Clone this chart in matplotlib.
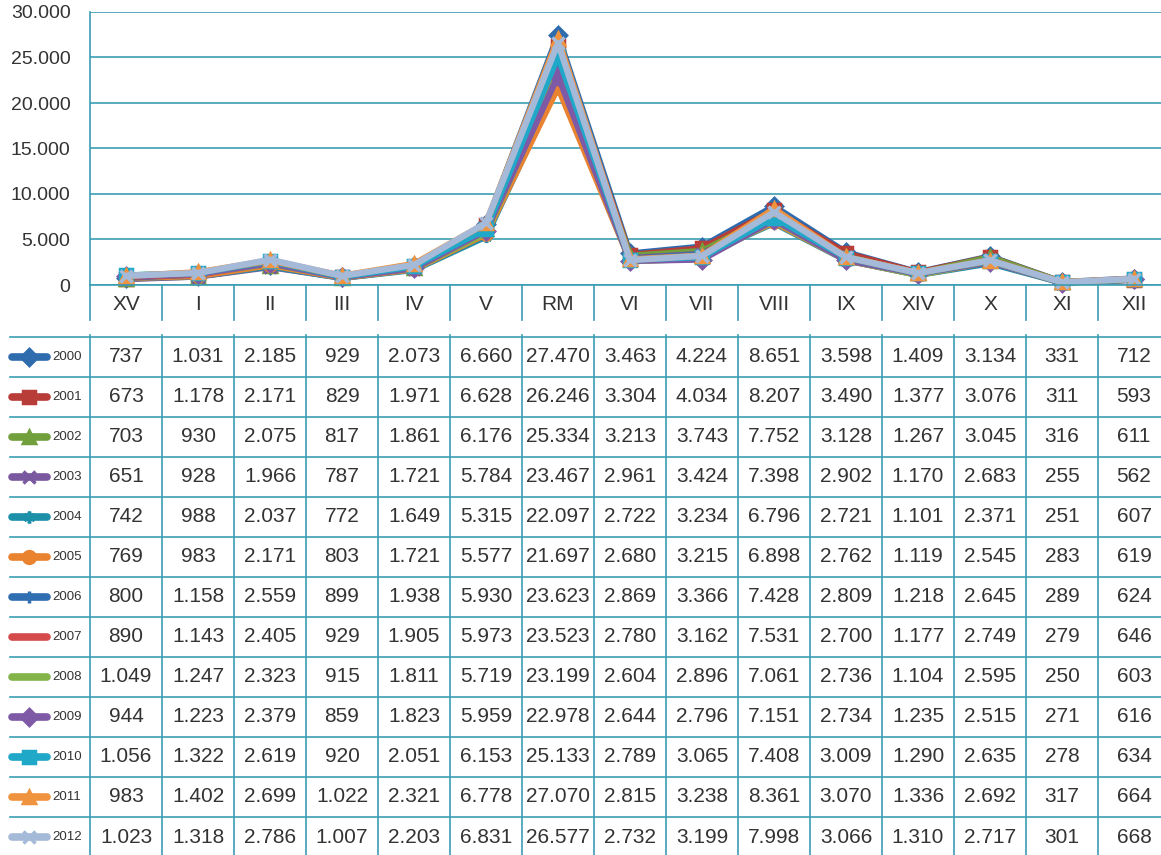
import matplotlib
matplotlib.use("Agg")
import matplotlib.pyplot as plt
from matplotlib import font_manager

categories = ["XV", "I", "II", "III", "IV", "V", "RM", "VI", "VII", "VIII", "IX", "XIV", "X", "XI", "XII"]
years = ["2000", "2001", "2002", "2003", "2004", "2005", "2006",
         "2007", "2008", "2009", "2010", "2011", "2012"]

v2000 = [737, 1031, 2185, 929, 2073, 6660, 27470, 3463, 4224, 8651, 3598, 1409, 3134, 331, 712]
v2001 = [673, 1178, 2171, 829, 1971, 6628, 26246, 3304, 4034, 8207, 3490, 1377, 3076, 311, 593]
v2002 = [703, 930, 2075, 817, 1861, 6176, 25334, 3213, 3743, 7752, 3128, 1267, 3045, 316, 611]
v2003 = [651, 928, 1966, 787, 1721, 5784, 23467, 2961, 3424, 7398, 2902, 1170, 2683, 255, 562]
v2004 = [742, 988, 2037, 772, 1649, 5315, 22097, 2722, 3234, 6796, 2721, 1101, 2371, 251, 607]
v2005 = [769, 983, 2171, 803, 1721, 5577, 21697, 2680, 3215, 6898, 2762, 1119, 2545, 283, 619]
v2006 = [800, 1158, 2559, 899, 1938, 5930, 23623, 2869, 3366, 7428, 2809, 1218, 2645, 289, 624]
v2007 = [890, 1143, 2405, 929, 1905, 5973, 23523, 2780, 3162, 7531, 2700, 1177, 2749, 279, 646]
v2008 = [1049, 1247, 2323, 915, 1811, 5719, 23199, 2604, 2896, 7061, 2736, 1104, 2595, 250, 603]
v2009 = [944, 1223, 2379, 859, 1823, 5959, 22978, 2644, 2796, 7151, 2734, 1235, 2515, 271, 616]
v2010 = [1056, 1322, 2619, 920, 2051, 6153, 25133, 2789, 3065, 7408, 3009, 1290, 2635, 278, 634]
v2011 = [983, 1402, 2699, 1022, 2321, 6778, 27070, 2815, 3238, 8361, 3070, 1336, 2692, 317, 664]
v2012 = [1023, 1318, 2786, 1007, 2203, 6831, 26577, 2732, 3199, 7998, 3066, 1310, 2717, 301, 668]

series = [v2000, v2001, v2002, v2003, v2004, v2005, v2006,
          v2007, v2008, v2009, v2010, v2011, v2012]

colors = ["#2f6cae", "#b83c37", "#719f3c", "#7a58a0", "#1c8fa9", "#e9832f", "#2f6eb1",
          "#d54b4b", "#82b44a", "#7e5aa6", "#20a8c8", "#f0933f", "#a5b9d8"]
markers = ["D", "s", "^", "x", (6, 2, 0), "o", "+", None, None, "D", "s", "^", "x"]

grid_col = "#3b9db3"
text_col = "#333333"

# pick a narrow font for the table if there is one
installed = {f.name for f in font_manager.fontManager.ttflist}
narrow = "Liberation Sans Narrow" if "Liberation Sans Narrow" in installed else "Liberation Sans"
tab_size = 17 if narrow == "Liberation Sans Narrow" else 15


def fmt(v):
    return f"{v:,}".replace(",", ".")


W, H = 1161, 855
fig = plt.figure(figsize=(W / 100, H / 100), dpi=100)

# line chart, columns are 72 px wide, last one cut by the right edge
ax = fig.add_axes([90 / W, 1 - 285 / H, 1080 / W, (285 - 12) / H])
for vals, col, mk in zip(series, colors, markers):
    ax.plot(range(len(categories)), vals, color=col, lw=4.5, marker=mk,
            ms=8, mew=2.5, mfc=col, mec=col, clip_on=False)
ax.set_xlim(-0.5, 14.5)
ax.set_ylim(0, 30000)
ax.set_yticks(range(0, 30001, 5000))
ax.set_yticklabels([fmt(t) for t in range(0, 30001, 5000)],
                   fontsize=14, color=text_col, family="Liberation Sans")
ax.tick_params(axis="y", length=0, pad=14)
ax.set_xticks([])
ax.grid(axis="y", color=grid_col, lw=1.2)
ax.set_axisbelow(True)
for s in ["top", "right"]:
    ax.spines[s].set_visible(False)
ax.spines["left"].set_color(grid_col)
ax.spines["bottom"].set_color(grid_col)
ax.spines["left"].set_linewidth(1.2)
ax.spines["bottom"].set_linewidth(1.2)

# category row and data table underneath, rows of 40 px starting at y=337
tab = fig.add_axes([0, 0, 1, 1 - 285 / H])
tab.set_xlim(-1.75, -1.75 + W / 72)
tab.set_ylim(12.95, -1.3)
tab.axis("off")

for i in range(len(categories) + 1):
    x = i - 0.5
    tab.plot([x, x], [-1.3, -0.42], color=grid_col, lw=1.2)
    tab.plot([x, x], [-0.05, 13], color=grid_col, lw=1.2)
for i, c in enumerate(categories):
    tab.text(i, -0.82, c, ha="center", va="center", fontsize=15,
             color=text_col, family=narrow)

for r in range(len(years) + 1):
    tab.plot([-1.61, 14.5], [r, r], color=grid_col, lw=1.2)

for r, (yr, vals, col, mk) in enumerate(zip(years, series, colors, markers)):
    yc = r + 0.5
    tab.plot([-1.59, -1.1], [yc, yc], color=col, lw=5.5, solid_capstyle="round")
    if mk is not None:
        tab.plot([-1.35], [yc], color=col, marker=mk, ms=8.5, mew=2.5, mfc=col, mec=col)
    tab.text(-1.03, yc, yr, ha="left", va="center", fontsize=9.5,
             color=text_col, family=narrow)
    for i, v in enumerate(vals):
        tab.text(i, yc, fmt(v), ha="center", va="center", fontsize=tab_size,
                 color=text_col, family=narrow)

fig.savefig("out.png", dpi=100)
